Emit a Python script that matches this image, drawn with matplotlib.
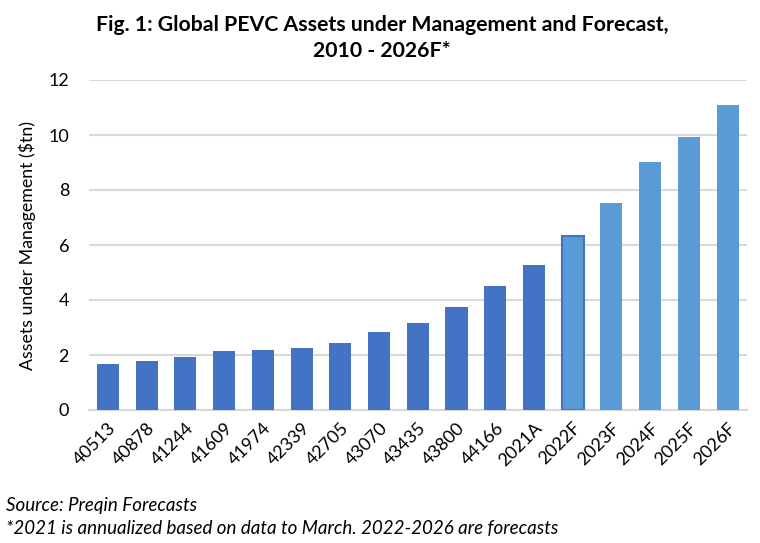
import matplotlib
matplotlib.use("Agg")
import matplotlib.pyplot as plt

plt.rcParams['font.family'] = ['Lato', 'DejaVu Sans']

categories = ["40513", "40878", "41244", "41609", "41974", "42339", "42705", "43070",
              "43435", "43800", "44166", "2021A", "2022F", "2023F", "2024F", "2025F", "2026F"]
values = [1.69, 1.77, 1.91, 2.13, 2.17, 2.27, 2.42, 2.82, 3.15, 3.76, 4.52, 5.29,
          6.34, 7.54, 9.02, 9.93, 11.09]
forecast = [False]*12 + [True]*5
yticks = [0, 2, 4, 6, 8, 10, 12]

dark = "#4472C4"
light = "#5B9BD5"

fig = plt.figure(figsize=(7.6, 5.43), dpi=100)
ax = fig.add_axes([88.5/760, 1-410/543, (747-88.5)/760, 330/543])

x = list(range(len(categories)))
colors = [light if f else dark for f in forecast]
bars = ax.bar(x, values, width=0.57, color=colors, zorder=3)
# 2022F bar outlined in the darker blue
bars[12].set_edgecolor(dark)
bars[12].set_linewidth(1.5)

ax.set_xlim(-0.5, len(categories) - 0.5)
ax.set_ylim(0, 12)
ax.set_yticks(yticks)
ax.set_yticklabels([str(t) for t in yticks], fontsize=13)
ax.set_xticks(x)
ax.set_xticklabels(categories, rotation=45, ha='right', rotation_mode='anchor', fontsize=13)
ax.tick_params(axis='x', length=0, pad=7)
ax.tick_params(axis='y', length=0, pad=14)
ax.grid(axis='y', color='#d9d9d9', linewidth=1.5, zorder=0)
for s in ['top', 'right', 'left']:
    ax.spines[s].set_visible(False)
ax.spines['bottom'].set_color('#d9d9d9')
ax.spines['bottom'].set_linewidth(1.5)
ax.set_ylabel("Assets under Management (\\$tn)", fontsize=12.8, labelpad=9)

fig.text(382/760, 1-25/543, "Fig. 1: Global PEVC Assets under Management and Forecast,",
         ha='center', va='center', fontsize=15.3, fontweight='bold')
fig.text(382/760, 1-51/543, "2010 - 2026F*", ha='center', va='center', fontsize=15.3, fontweight='bold')

fig.text(6/760, 1-505/543, "Source: Preqin Forecasts", ha='left', va='center',
         fontsize=13.5, style='italic')
fig.text(6/760, 1-528/543, "*2021 is annualized based on data to March. 2022-2026 are forecasts",
         ha='left', va='center', fontsize=13.5, style='italic')

fig.savefig("out.png", dpi=100)
